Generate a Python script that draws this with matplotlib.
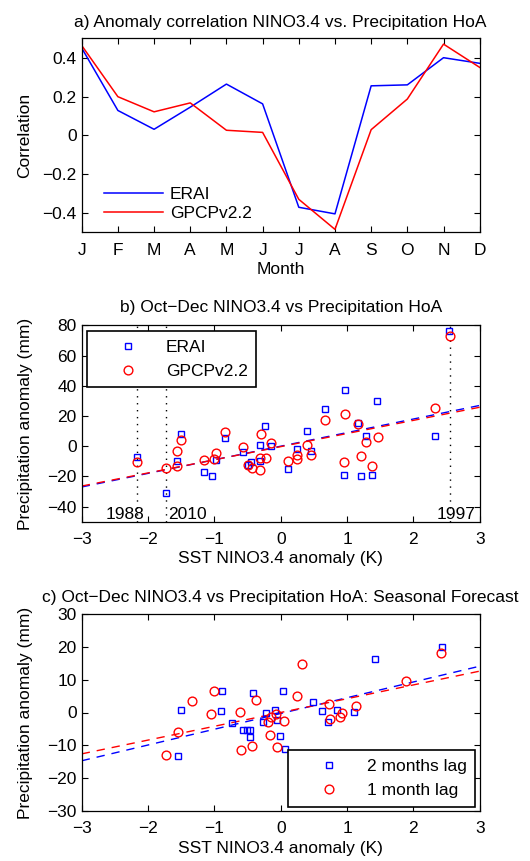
import numpy as np
import matplotlib
matplotlib.use("Agg")
import matplotlib.pyplot as plt
from matplotlib.ticker import FuncFormatter

plt.rcParams['font.family'] = ['Liberation Sans', 'DejaVu Sans']
FS = 12.5
plt.rcParams['font.size'] = FS

# ---------------- Panel a data ----------------
months = ['J', 'F', 'M', 'A', 'M', 'J', 'J', 'A', 'S', 'O', 'N', 'D']
corr_erai = [0.45, 0.128, 0.031, 0.145, 0.264, 0.162, -0.371, -0.405, 0.255, 0.26, 0.40, 0.371]
corr_gpcp = [0.463, 0.199, 0.121, 0.167, 0.026, 0.015, -0.33, -0.485, 0.029, 0.187, 0.47, 0.35]

# ---------------- Panel b data ----------------
sst_b_erai = [-2.17, -1.73, -1.57, -1.50, -1.15, -1.03, -0.98, -0.84, -0.57, -0.50,
              -0.45, -0.31, -0.31, -0.23, -0.15, 0.11, 0.24, 0.40, 0.46, 0.67,
              0.97, 0.96, 1.16, 1.28, 1.21, 1.37, 1.45, 2.33, 2.54]
pr_b_erai = [-7.1, -30.7, -9.6, 8.4, -17.1, -19.8, -9.3, 5.6, -3.8, -12.2,
             -10.7, 0.7, -9.6, 13.1, 0.0, -14.9, -1.8, 10.2, -3.3, 24.4,
             37.3, -19.3, 15.1, 6.7, -20.0, -19.3, 30.0, 6.7, 76.2]
sst_b_gpcp = [-2.17, -1.73, -1.56, -1.56, -1.50, -1.15, -1.01, -0.98, -0.84, -0.57,
              -0.49, -0.44, -0.30, -0.31, -0.31, -0.22, -0.15, 0.11, 0.25, 0.25,
              0.40, 0.45, 0.67, 0.97, 0.95, 1.16, 1.28, 1.21, 1.37, 1.46,
              2.33, 2.55]
pr_b_gpcp = [-10.7, -14.4, -2.9, -13.3, 4.4, -8.9, -8.4, -4.4, 9.3, -0.2,
             -12.7, -14.4, 7.8, -7.8, -15.6, -7.8, 1.8, -10.0, -5.6, -8.4,
             0.7, -5.6, 17.3, 21.1, -10.7, 14.4, 2.9, -6.7, -12.9, 6.0,
             25.6, 73.3]
# regression lines: (slope, intercept)
fit_b_erai = (9.0, 0.0)
fit_b_gpcp = (8.7, -0.3)
year_labels = ['1988', '2010', '1997']
year_sst = [-2.17, -1.73, 2.55]
year_text_x = [-2.64, -1.70, 2.35]

# ---------------- Panel c data ----------------
sst_c_lag2 = [-1.55, -1.50, -0.90, -0.88, -0.74, -0.57, -0.51, -0.46, -0.46, -0.42,
              -0.26, -0.22, -0.09, -0.06, -0.01, 0.04, 0.06, 0.48, 0.63, 0.71,
              0.85, 1.11, 1.42, 2.43]
pr_c_lag2 = [-13.4, 0.7, 0.5, 6.7, -3.1, -5.3, -5.3, -5.3, -7.6, 5.8,
             -2.8, -0.25, 0.8, -2.3, -7.1, 6.6, -11.1, 3.3, 0.6, -2.8,
             0.8, 0.2, 16.2, 20.0]
sst_c_lag1 = [-1.73, -1.55, -1.33, -1.05, -1.01, -0.62, -0.60, -0.44, -0.37, -0.19,
              -0.14, -0.16, -0.07, -0.05, 0.05, 0.24, 0.32, 0.73, 0.74, 0.89,
              0.93, 1.13, 1.89, 2.42]
pr_c_lag1 = [-12.9, -6.0, 3.6, -0.6, 6.4, 0.25, -11.4, -10.2, 3.8, -2.8,
             -1.5, -6.9, -0.46, -10.6, -2.6, 5.1, 14.8, 2.5, -2.0, -1.5,
             -0.06, 2.1, 9.5, 18.2]
fit_c_lag2 = (4.8, -0.3)
fit_c_lag1 = (4.2, 0.0)

BLUE = '#0000ff'
RED = '#ff0000'

W, H = 530, 861
fig = plt.figure(figsize=(W / 100, H / 100), dpi=100)


def ax_rect(x0, y0, x1, y1):
    return [x0 / W, 1 - y1 / H, (x1 - x0) / W, (y1 - y0) / H]


def style(ax):
    ax.tick_params(direction='in', length=4, width=0.8, top=True, right=True,
                   labelsize=FS, colors='black')
    ax.tick_params(axis='x', pad=7.5)
    ax.tick_params(axis='y', pad=3.5)
    for s in ax.spines.values():
        s.set_linewidth(0.9)


def num_fmt(v, pos):
    if abs(v) < 1e-9:
        return '0'
    return ('%g' % v).replace('-', '\u2212')


DASH = (0, (6, 5))

# ---------------- Panel a ----------------
axa = fig.add_axes(ax_rect(81.7, 38.3, 479.7, 232.3))
x_m = np.arange(len(months))
axa.plot(x_m, corr_erai, color=BLUE, lw=1.1, label='ERAI')
axa.plot(x_m, corr_gpcp, color=RED, lw=1.1, label='GPCPv2.2')
axa.set_xlim(0, 11)
axa.set_ylim(-0.5, 0.5)
axa.set_xticks(x_m)
axa.set_xticklabels(months)
axa.set_yticks([-0.4, -0.2, 0, 0.2, 0.4])
axa.yaxis.set_major_formatter(FuncFormatter(num_fmt))
style(axa)
axa.set_title('a) Anomaly correlation NINO3.4 vs. Precipitation HoA', fontsize=FS, pad=8)
axa.set_xlabel('Month', fontsize=FS, labelpad=3)
axa.set_ylabel('Correlation', fontsize=FS)
axa.yaxis.set_label_coords(-0.125, 0.5)
axa.legend(loc='lower left', bbox_to_anchor=(0.038, 0.022), borderaxespad=0,
           frameon=False, handlelength=3.4, handletextpad=0.4, labelspacing=0.25,
           borderpad=0.4, fontsize=FS)

# ---------------- Panel b ----------------
axb = fig.add_axes(ax_rect(81.7, 325.4, 479.7, 521.7))
for xs in year_sst:
    axb.plot([xs, xs], [-50, 80], color='black', lw=1.0, linestyle=(0, (1, 4)), zorder=1)
for lab, xt in zip(year_labels, year_text_x):
    axb.text(xt, -50.5, lab, fontsize=FS, ha='left', va='bottom', zorder=2)
axb.plot(sst_b_erai, pr_b_erai, linestyle='none', marker='s', ms=5.0, mfc='none',
         mec=BLUE, mew=1.0, label='ERAI', zorder=3)
axb.plot(sst_b_gpcp, pr_b_gpcp, linestyle='none', marker='o', ms=6.3, mfc='none',
         mec=RED, mew=1.0, label='GPCPv2.2', zorder=3)
xl = np.array([-3.0, 3.0])
axb.plot(xl, np.polyval(fit_b_erai, xl), color=BLUE, lw=1.0, linestyle=DASH, zorder=2)
axb.plot(xl, np.polyval(fit_b_gpcp, xl), color=RED, lw=1.0, linestyle=DASH, zorder=2)
axb.set_xlim(-3, 3)
axb.set_ylim(-50, 80)
axb.set_xticks(np.arange(-3, 4, 1))
axb.set_yticks(np.arange(-40, 81, 20))
axb.xaxis.set_major_formatter(FuncFormatter(num_fmt))
axb.yaxis.set_major_formatter(FuncFormatter(num_fmt))
style(axb)
axb.set_title('b) Oct\u2212Dec NINO3.4 vs Precipitation HoA', fontsize=FS, pad=9.5)
axb.set_xlabel('SST NINO3.4 anomaly (K)', fontsize=FS, labelpad=3)
axb.set_ylabel('Precipitation anomaly (mm)', fontsize=FS)
axb.yaxis.set_label_coords(-0.123, 0.5)
lgb = axb.legend(loc='upper left', bbox_to_anchor=(0.0128, 0.9725), borderaxespad=0,
                 numpoints=1, handlelength=3.75, handletextpad=0.3, labelspacing=0.52,
                 borderpad=0.5, fancybox=False, framealpha=1, edgecolor='black',
                 fontsize=FS)
lgb.get_frame().set_linewidth(1.2)

# ---------------- Panel c ----------------
axc = fig.add_axes(ax_rect(81.7, 614.0, 479.7, 811.0))
axc.plot(sst_c_lag2, pr_c_lag2, linestyle='none', marker='s', ms=5.0, mfc='none',
         mec=BLUE, mew=1.0, label='2 months lag', zorder=3)
axc.plot(sst_c_lag1, pr_c_lag1, linestyle='none', marker='o', ms=6.3, mfc='none',
         mec=RED, mew=1.0, label='1 month lag', zorder=3)
axc.plot(xl, np.polyval(fit_c_lag2, xl), color=BLUE, lw=1.0, linestyle=DASH, zorder=2)
axc.plot(xl, np.polyval(fit_c_lag1, xl), color=RED, lw=1.0, linestyle=DASH, zorder=2)
axc.set_xlim(-3, 3)
axc.set_ylim(-30, 30)
axc.set_xticks(np.arange(-3, 4, 1))
axc.set_yticks(np.arange(-30, 31, 10))
axc.xaxis.set_major_formatter(FuncFormatter(num_fmt))
axc.yaxis.set_major_formatter(FuncFormatter(num_fmt))
style(axc)
axc.set_title('c) Oct\u2212Dec NINO3.4 vs Precipitation HoA: Seasonal Forecast',
              fontsize=FS, pad=8.3)
axc.set_xlabel('SST NINO3.4 anomaly (K)', fontsize=FS, labelpad=3)
axc.set_ylabel('Precipitation anomaly (mm)', fontsize=FS)
axc.yaxis.set_label_coords(-0.123, 0.5)
lgc = axc.legend(loc='lower right', bbox_to_anchor=(0.989, 0.02), borderaxespad=0,
                 numpoints=1, handlelength=3.75, handletextpad=0.3, labelspacing=0.52,
                 borderpad=0.5, fancybox=False, framealpha=1, edgecolor='black',
                 fontsize=FS)
lgc.get_frame().set_linewidth(1.2)

fig.savefig('out.png', dpi=100)
